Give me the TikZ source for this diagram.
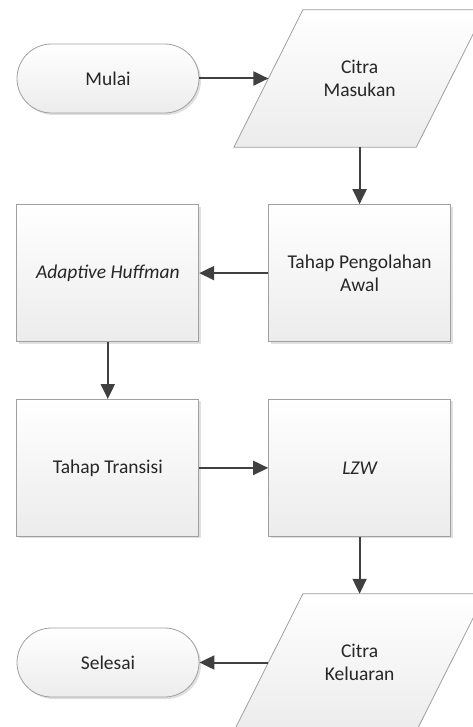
\documentclass[tikz,border=0pt]{standalone}
\usepackage{fontspec}
\setmainfont{Carlito}
\usetikzlibrary{positioning,arrows.meta,shadows,backgrounds}
\definecolor{linegray}{HTML}{A0A0A0}
\definecolor{arrowgray}{HTML}{404040}
\definecolor{textgray}{HTML}{262626}

\tikzset{
	base/.style={font=\fontsize{19.5}{23.5}\selectfont, text=textgray, align=center, minimum width=182pt, inner sep=0pt},
	proc/.style={base, rectangle, draw=linegray, line width=0.8pt, top color=white, bottom color=gray!15, minimum height=137pt, drop shadow={shadow xshift=2pt, shadow yshift=-2pt, fill=black, opacity=0.12}},
	term/.style={proc, rounded corners=34.5pt, minimum height=69pt},
	io/.style={base, minimum height=137pt},
	iofill/.style={draw=linegray, line width=0.8pt, top color=white, bottom color=gray!15},
	flow/.style={draw=arrowgray, line width=2pt, -{Triangle[length=15pt,width=14pt]}},
}

\begin{document}
\begin{tikzpicture}[x=1pt, y=-1pt]
		\useasboundingbox (0,0) rectangle (473,727);
		\node [term] (mulai) at (108,78.5) {Mulai};
		\node [io, right=69pt of mulai] (masukan) {Citra\\Masukan};
		\node [proc, below=57pt of masukan] (awal) {Tahap Pengolahan\\Awal};
		\node [proc, left=69pt of awal] (huffman) {\itshape Adaptive Huffman};
		\node [proc, below=57pt of huffman] (transisi) {Tahap Transisi};
		\node [proc, right=69pt of transisi] (lzw) {\itshape LZW};
		\node [io, below=57pt of lzw] (keluaran) {Citra\\Keluaran};
		\node [term, left=69pt of keluaran] (selesai) {Selesai};
		\begin{scope}[on background layer]
			\foreach \n in {masukan,keluaran} {
				\fill [black, opacity=0.12, shift={(2pt,-2pt)}] ([xshift=34.5pt]\n.north west) -- ([xshift=34.5pt]\n.north east) -- ([xshift=-34.5pt]\n.south east) -- ([xshift=-34.5pt]\n.south west) -- cycle;
				\path [iofill] ([xshift=34.5pt]\n.north west) -- ([xshift=34.5pt]\n.north east) -- ([xshift=-34.5pt]\n.south east) -- ([xshift=-34.5pt]\n.south west) -- cycle;
			}
		\end{scope}
		\draw [flow] (mulai) -- (masukan);
		\draw [flow] (masukan) -- (awal);
		\draw [flow] (awal) -- (huffman);
		\draw [flow] (huffman) -- (transisi);
		\draw [flow] (transisi) -- (lzw);
		\draw [flow] (lzw) -- (keluaran);
		\draw [flow] (keluaran) -- (selesai);
	\end{tikzpicture}
\end{document}
